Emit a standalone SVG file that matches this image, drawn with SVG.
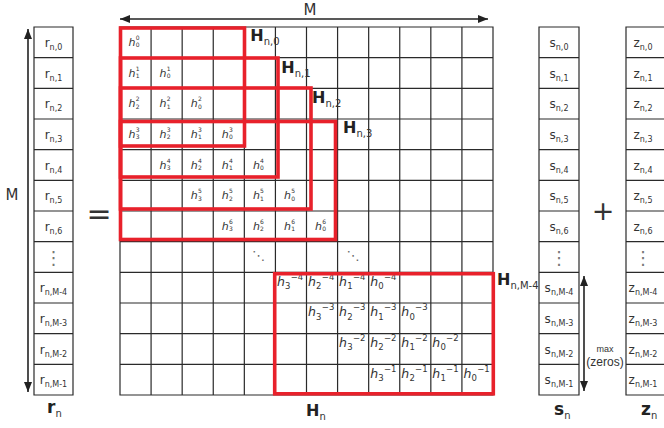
<svg xmlns="http://www.w3.org/2000/svg" width="664" height="428" viewBox="0 0 664 428">
<defs>
<style>
text{font-family:"DejaVu Sans","Liberation Sans",sans-serif;fill:#333}
.grid{fill:none;stroke:#2a2a2a;stroke-width:1.2}
.red{fill:none;stroke:#e8212b;stroke-width:3.6}
.h{font-size:11px;font-style:italic}
.ix{font-size:6px;font-style:normal}
.hb{font-size:12.5px;font-style:italic}
.ib{font-size:8.5px;font-style:normal}
.v{font-size:12px;text-anchor:middle}
.vs{font-size:8px}
.HL{font-size:16px;font-weight:bold;fill:#222}
.HS{font-size:10px;font-weight:normal;fill:#333}
.dots{font-size:13px;text-anchor:middle;fill:#666}
.vd{font-size:18px;text-anchor:middle;fill:#777}
.arr{stroke:#222;stroke-width:1.6;fill:none}
</style>
<marker id="ah" viewBox="0 0 10 8" refX="10" refY="4" markerWidth="10" markerHeight="8" markerUnits="userSpaceOnUse" orient="auto-start-reverse">
<path d="M0,0 L10,4 L0,8 z" fill="#222"/>
</marker>
</defs>
<rect width="664" height="428" fill="#fff"/>

<g id="connectors">
<line class="arr" x1="120" y1="19" x2="488" y2="19" marker-start="url(#ah)" marker-end="url(#ah)"/>
<line class="arr" x1="28" y1="29" x2="28" y2="392" marker-start="url(#ah)" marker-end="url(#ah)"/>
<line class="arr" x1="584" y1="276" x2="584" y2="391" marker-start="url(#ah)" marker-end="url(#ah)"/>
</g>

<g id="labels">
<text x="310" y="15" style="font-size:15px" text-anchor="middle">M</text>
<text x="12" y="200" style="font-size:15px" text-anchor="middle">M</text>
<text x="99" y="223.5" style="font-size:30px" text-anchor="middle">=</text>
<text x="603" y="220" style="font-size:27px" text-anchor="middle">+</text>
<text x="605" y="352" style="font-size:9px;font-family:'Liberation Sans',sans-serif" text-anchor="middle">max</text>
<text x="605" y="366" style="font-size:12px;font-family:'Liberation Sans',sans-serif" text-anchor="middle">(zeros)</text>
</g>

<g id="r_vector">
<path class="grid" d="M34,27H73V395H34Z M34,57.67H73 M34,88.33H73 M34,119H73 M34,149.67H73 M34,180.33H73 M34,211H73 M34,241.67H73 M34,272.33H73 M34,303H73 M34,333.67H73 M34,364.33H73"/>
<text class="v" x="53.5" y="46.8">r<tspan class="vs" dy="3">n,0</tspan></text>
<text class="v" x="53.5" y="77.5">r<tspan class="vs" dy="3">n,1</tspan></text>
<text class="v" x="53.5" y="108.2">r<tspan class="vs" dy="3">n,2</tspan></text>
<text class="v" x="53.5" y="138.8">r<tspan class="vs" dy="3">n,3</tspan></text>
<text class="v" x="53.5" y="169.5">r<tspan class="vs" dy="3">n,4</tspan></text>
<text class="v" x="53.5" y="200.2">r<tspan class="vs" dy="3">n,5</tspan></text>
<text class="v" x="53.5" y="230.8">r<tspan class="vs" dy="3">n,6</tspan></text>
<text class="vd" x="53.5" y="264">⋮</text>
<text class="v" x="53.5" y="292.2">r<tspan class="vs" dy="3">n,M-4</tspan></text>
<text class="v" x="53.5" y="322.8">r<tspan class="vs" dy="3">n,M-3</tspan></text>
<text class="v" x="53.5" y="353.5">r<tspan class="vs" dy="3">n,M-2</tspan></text>
<text class="v" x="53.5" y="384.2">r<tspan class="vs" dy="3">n,M-1</tspan></text>
<text x="47" y="413" style="font-size:17px;font-weight:bold;fill:#222">r<tspan class="HS" dy="4">n</tspan></text>
</g>

<g id="s_vector">
<path class="grid" d="M539,27H579V395H539Z M539,57.67H579 M539,88.33H579 M539,119H579 M539,149.67H579 M539,180.33H579 M539,211H579 M539,241.67H579 M539,272.33H579 M539,303H579 M539,333.67H579 M539,364.33H579"/>
<text class="v" x="559" y="46.8">s<tspan class="vs" dy="3">n,0</tspan></text>
<text class="v" x="559" y="77.5">s<tspan class="vs" dy="3">n,1</tspan></text>
<text class="v" x="559" y="108.2">s<tspan class="vs" dy="3">n,2</tspan></text>
<text class="v" x="559" y="138.8">s<tspan class="vs" dy="3">n,3</tspan></text>
<text class="v" x="559" y="169.5">s<tspan class="vs" dy="3">n,4</tspan></text>
<text class="v" x="559" y="200.2">s<tspan class="vs" dy="3">n,5</tspan></text>
<text class="v" x="559" y="230.8">s<tspan class="vs" dy="3">n,6</tspan></text>
<text class="vd" x="559" y="264">⋮</text>
<text class="v" x="559" y="292.2">s<tspan class="vs" dy="3">n,M-4</tspan></text>
<text class="v" x="559" y="322.8">s<tspan class="vs" dy="3">n,M-3</tspan></text>
<text class="v" x="559" y="353.5">s<tspan class="vs" dy="3">n,M-2</tspan></text>
<text class="v" x="559" y="384.2">s<tspan class="vs" dy="3">n,M-1</tspan></text>
<text x="554" y="415" style="font-size:17px;font-weight:bold;fill:#222">s<tspan class="HS" dy="4">n</tspan></text>
</g>

<g id="z_vector">
<path class="grid" d="M626,27H666V395H626Z M626,57.67H666 M626,88.33H666 M626,119H666 M626,149.67H666 M626,180.33H666 M626,211H666 M626,241.67H666 M626,272.33H666 M626,303H666 M626,333.67H666 M626,364.33H666"/>
<text class="v" x="643" y="46.8">z<tspan class="vs" dy="3">n,0</tspan></text>
<text class="v" x="643" y="77.5">z<tspan class="vs" dy="3">n,1</tspan></text>
<text class="v" x="643" y="108.2">z<tspan class="vs" dy="3">n,2</tspan></text>
<text class="v" x="643" y="138.8">z<tspan class="vs" dy="3">n,3</tspan></text>
<text class="v" x="643" y="169.5">z<tspan class="vs" dy="3">n,4</tspan></text>
<text class="v" x="643" y="200.2">z<tspan class="vs" dy="3">n,5</tspan></text>
<text class="v" x="643" y="230.8">z<tspan class="vs" dy="3">n,6</tspan></text>
<text class="vd" x="643" y="264">⋮</text>
<text class="v" x="643" y="292.2">z<tspan class="vs" dy="3">n,M-4</tspan></text>
<text class="v" x="643" y="322.8">z<tspan class="vs" dy="3">n,M-3</tspan></text>
<text class="v" x="643" y="353.5">z<tspan class="vs" dy="3">n,M-2</tspan></text>
<text class="v" x="643" y="384.2">z<tspan class="vs" dy="3">n,M-1</tspan></text>
<text x="641" y="415" style="font-size:17px;font-weight:bold;fill:#222">z<tspan class="HS" dy="4">n</tspan></text>
</g>

<g id="H_matrix">
<path class="grid" d="M120,27H493V395H120Z M151.08,27V395 M182.17,27V395 M213.25,27V395 M244.33,27V395 M275.42,27V395 M306.5,27V395 M337.58,27V395 M368.67,27V395 M399.75,27V395 M430.83,27V395 M461.92,27V395 M120,57.67H493 M120,88.33H493 M120,119H493 M120,149.67H493 M120,180.33H493 M120,211H493 M120,241.67H493 M120,272.33H493 M120,303H493 M120,333.67H493 M120,364.33H493"/>
<text class="dots" x="258.5" y="260">⋱</text>
<text class="dots" x="353.1" y="260">⋱</text>
<text x="306" y="416" class="HL">H<tspan class="HS" dy="4">n</tspan></text>

<g id="cells_top">
<g transform="translate(135.5,42.3)"><text class="h" x="-7" y="3.6">h<tspan class="ix" x="0.2" y="-2.3">0</tspan><tspan class="ix" x="0.2" y="4.8">0</tspan></text></g>
<g transform="translate(135.5,73)"><text class="h" x="-7" y="3.6">h<tspan class="ix" x="0.2" y="-2.3">1</tspan><tspan class="ix" x="0.2" y="4.8">1</tspan></text></g>
<g transform="translate(166.6,73)"><text class="h" x="-7" y="3.6">h<tspan class="ix" x="0.2" y="-2.3">1</tspan><tspan class="ix" x="0.2" y="4.8">0</tspan></text></g>
<g transform="translate(135.5,103.7)"><text class="h" x="-7" y="3.6">h<tspan class="ix" x="0.2" y="-2.3">2</tspan><tspan class="ix" x="0.2" y="4.8">2</tspan></text></g>
<g transform="translate(166.6,103.7)"><text class="h" x="-7" y="3.6">h<tspan class="ix" x="0.2" y="-2.3">2</tspan><tspan class="ix" x="0.2" y="4.8">1</tspan></text></g>
<g transform="translate(197.7,103.7)"><text class="h" x="-7" y="3.6">h<tspan class="ix" x="0.2" y="-2.3">2</tspan><tspan class="ix" x="0.2" y="4.8">0</tspan></text></g>
<g transform="translate(135.5,134.3)"><text class="h" x="-7" y="3.6">h<tspan class="ix" x="0.2" y="-2.3">3</tspan><tspan class="ix" x="0.2" y="4.8">3</tspan></text></g>
<g transform="translate(166.6,134.3)"><text class="h" x="-7" y="3.6">h<tspan class="ix" x="0.2" y="-2.3">3</tspan><tspan class="ix" x="0.2" y="4.8">2</tspan></text></g>
<g transform="translate(197.7,134.3)"><text class="h" x="-7" y="3.6">h<tspan class="ix" x="0.2" y="-2.3">3</tspan><tspan class="ix" x="0.2" y="4.8">1</tspan></text></g>
<g transform="translate(228.8,134.3)"><text class="h" x="-7" y="3.6">h<tspan class="ix" x="0.2" y="-2.3">3</tspan><tspan class="ix" x="0.2" y="4.8">0</tspan></text></g>
<g transform="translate(166.6,165)"><text class="h" x="-7" y="3.6">h<tspan class="ix" x="0.2" y="-2.3">4</tspan><tspan class="ix" x="0.2" y="4.8">3</tspan></text></g>
<g transform="translate(197.7,165)"><text class="h" x="-7" y="3.6">h<tspan class="ix" x="0.2" y="-2.3">4</tspan><tspan class="ix" x="0.2" y="4.8">2</tspan></text></g>
<g transform="translate(228.8,165)"><text class="h" x="-7" y="3.6">h<tspan class="ix" x="0.2" y="-2.3">4</tspan><tspan class="ix" x="0.2" y="4.8">1</tspan></text></g>
<g transform="translate(259.9,165)"><text class="h" x="-7" y="3.6">h<tspan class="ix" x="0.2" y="-2.3">4</tspan><tspan class="ix" x="0.2" y="4.8">0</tspan></text></g>
<g transform="translate(197.7,195.7)"><text class="h" x="-7" y="3.6">h<tspan class="ix" x="0.2" y="-2.3">5</tspan><tspan class="ix" x="0.2" y="4.8">3</tspan></text></g>
<g transform="translate(228.8,195.7)"><text class="h" x="-7" y="3.6">h<tspan class="ix" x="0.2" y="-2.3">5</tspan><tspan class="ix" x="0.2" y="4.8">2</tspan></text></g>
<g transform="translate(259.9,195.7)"><text class="h" x="-7" y="3.6">h<tspan class="ix" x="0.2" y="-2.3">5</tspan><tspan class="ix" x="0.2" y="4.8">1</tspan></text></g>
<g transform="translate(291,195.7)"><text class="h" x="-7" y="3.6">h<tspan class="ix" x="0.2" y="-2.3">5</tspan><tspan class="ix" x="0.2" y="4.8">0</tspan></text></g>
<g transform="translate(228.8,226.3)"><text class="h" x="-7" y="3.6">h<tspan class="ix" x="0.2" y="-2.3">6</tspan><tspan class="ix" x="0.2" y="4.8">3</tspan></text></g>
<g transform="translate(259.9,226.3)"><text class="h" x="-7" y="3.6">h<tspan class="ix" x="0.2" y="-2.3">6</tspan><tspan class="ix" x="0.2" y="4.8">2</tspan></text></g>
<g transform="translate(291,226.3)"><text class="h" x="-7" y="3.6">h<tspan class="ix" x="0.2" y="-2.3">6</tspan><tspan class="ix" x="0.2" y="4.8">1</tspan></text></g>
<g transform="translate(322,226.3)"><text class="h" x="-7" y="3.6">h<tspan class="ix" x="0.2" y="-2.3">6</tspan><tspan class="ix" x="0.2" y="4.8">0</tspan></text></g>
</g>

<g id="cells_bottom">
<g transform="translate(275.4,287.7)"><text class="hb" x="1.5" y="-2">h<tspan class="ib" x="9.6" y="1.3">3</tspan><tspan class="ib" x="15.3" y="-8">−4</tspan></text></g>
<g transform="translate(306.5,287.7)"><text class="hb" x="1.5" y="-2">h<tspan class="ib" x="9.6" y="1.3">2</tspan><tspan class="ib" x="15.3" y="-8">−4</tspan></text></g>
<g transform="translate(337.6,287.7)"><text class="hb" x="1.5" y="-2">h<tspan class="ib" x="9.6" y="1.3">1</tspan><tspan class="ib" x="15.3" y="-8">−4</tspan></text></g>
<g transform="translate(368.7,287.7)"><text class="hb" x="1.5" y="-2">h<tspan class="ib" x="9.6" y="1.3">0</tspan><tspan class="ib" x="15.3" y="-8">−4</tspan></text></g>
<g transform="translate(306.5,318.3)"><text class="hb" x="1.5" y="-2">h<tspan class="ib" x="9.6" y="1.3">3</tspan><tspan class="ib" x="15.3" y="-8">−3</tspan></text></g>
<g transform="translate(337.6,318.3)"><text class="hb" x="1.5" y="-2">h<tspan class="ib" x="9.6" y="1.3">2</tspan><tspan class="ib" x="15.3" y="-8">−3</tspan></text></g>
<g transform="translate(368.7,318.3)"><text class="hb" x="1.5" y="-2">h<tspan class="ib" x="9.6" y="1.3">1</tspan><tspan class="ib" x="15.3" y="-8">−3</tspan></text></g>
<g transform="translate(399.8,318.3)"><text class="hb" x="1.5" y="-2">h<tspan class="ib" x="9.6" y="1.3">0</tspan><tspan class="ib" x="15.3" y="-8">−3</tspan></text></g>
<g transform="translate(337.6,349)"><text class="hb" x="1.5" y="-2">h<tspan class="ib" x="9.6" y="1.3">3</tspan><tspan class="ib" x="15.3" y="-8">−2</tspan></text></g>
<g transform="translate(368.7,349)"><text class="hb" x="1.5" y="-2">h<tspan class="ib" x="9.6" y="1.3">2</tspan><tspan class="ib" x="15.3" y="-8">−2</tspan></text></g>
<g transform="translate(399.8,349)"><text class="hb" x="1.5" y="-2">h<tspan class="ib" x="9.6" y="1.3">1</tspan><tspan class="ib" x="15.3" y="-8">−2</tspan></text></g>
<g transform="translate(430.8,349)"><text class="hb" x="1.5" y="-2">h<tspan class="ib" x="9.6" y="1.3">0</tspan><tspan class="ib" x="15.3" y="-8">−2</tspan></text></g>
<g transform="translate(368.7,379.7)"><text class="hb" x="1.5" y="-2">h<tspan class="ib" x="9.6" y="1.3">3</tspan><tspan class="ib" x="15.3" y="-8">−1</tspan></text></g>
<g transform="translate(399.8,379.7)"><text class="hb" x="1.5" y="-2">h<tspan class="ib" x="9.6" y="1.3">2</tspan><tspan class="ib" x="15.3" y="-8">−1</tspan></text></g>
<g transform="translate(430.8,379.7)"><text class="hb" x="1.5" y="-2">h<tspan class="ib" x="9.6" y="1.3">1</tspan><tspan class="ib" x="15.3" y="-8">−1</tspan></text></g>
<g transform="translate(461.9,379.7)"><text class="hb" x="1.5" y="-2">h<tspan class="ib" x="9.6" y="1.3">0</tspan><tspan class="ib" x="15.3" y="-8">−1</tspan></text></g>
</g>
</g>

<g id="H_n0"><rect class="red" x="120.5" y="28" width="124" height="118"/><text class="HL" x="250.3" y="41">H<tspan class="HS" dy="4">n,0</tspan></text></g>
<g id="H_n1"><rect class="red" x="120.5" y="58" width="157.5" height="119"/><text class="HL" x="281.3" y="73.3">H<tspan class="HS" dy="4">n,1</tspan></text></g>
<g id="H_n2"><rect class="red" x="120.5" y="88" width="190.5" height="121"/><text class="HL" x="312" y="102.7">H<tspan class="HS" dy="4">n,2</tspan></text></g>
<g id="H_n3"><rect class="red" x="120.5" y="121.5" width="215" height="118"/><text class="HL" x="343" y="133">H<tspan class="HS" dy="4">n,3</tspan></text></g>
<g id="H_nM4"><rect class="red" x="274.7" y="273.7" width="218.6" height="120.1"/><text class="HL" x="497" y="285">H<tspan class="HS" dy="4">n,M-4</tspan></text></g>
</svg>
